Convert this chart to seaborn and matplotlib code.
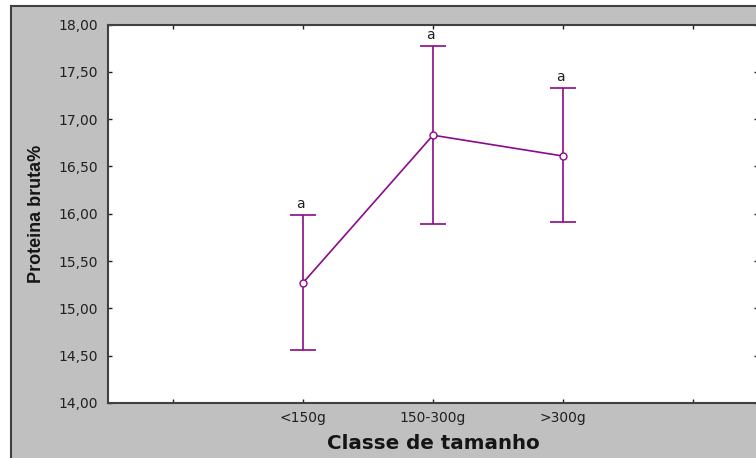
import numpy as np
import pandas as pd
import matplotlib
matplotlib.use("Agg")
import matplotlib.pyplot as plt
from matplotlib.patches import Rectangle
from matplotlib.ticker import FuncFormatter
import seaborn as sns

# dados
classes = ["<150g", "150-300g", ">300g"]
medias = [15.27, 16.83, 16.61]
ic_inf = [14.56, 15.89, 15.91]
ic_sup = [15.99, 17.77, 17.33]
letras = ["a", "a", "a"]
yticks = [14.0, 14.5, 15.0, 15.5, 16.0, 16.5, 17.0, 17.5, 18.0]

sns.set_style("ticks")
plt.rcParams["font.family"] = ["DejaVu Sans"]

roxo = "#8B0A8B"
cinza = "#C0C0C0"
borda = "#404040"

pos = np.arange(1, len(classes) + 1)
df = pd.DataFrame({"pos": pos, "media": medias})

fig = plt.figure(figsize=(7.56, 4.58), dpi=100, facecolor="white")
# fundo cinza com moldura
fig.patches.append(Rectangle((11 / 756, -0.1), 1.1, 1 - 6 / 458 + 0.1,
                             transform=fig.transFigure, facecolor=cinza,
                             edgecolor=borda, lw=1.5, zorder=-10))
ax = fig.add_axes([108 / 756, 1 - 403 / 458, 650 / 756, (403 - 24.5) / 458])
ax.set_facecolor("white")

yerr = [np.array(medias) - np.array(ic_inf), np.array(ic_sup) - np.array(medias)]
ax.errorbar(pos, medias, yerr=yerr, fmt="none", ecolor=roxo, elinewidth=1.2,
            capsize=9.5, capthick=1.2, zorder=2)
sns.lineplot(data=df, x="pos", y="media", color=roxo, lw=1.2, marker="o",
             markersize=5, markerfacecolor="white", markeredgecolor=roxo,
             markeredgewidth=1.0, ax=ax, zorder=3)

for p, s, l in zip(pos, ic_sup, letras):
    ax.annotate(l, (p, s), xytext=(-2, 3), textcoords="offset points",
                ha="center", va="bottom", fontsize=10, color="#202020")

ax.set_xlim(-0.5, 4.5)
ax.set_ylim(14, 18)
ax.set_xticks(range(5))
ax.set_xticklabels([""] + classes + [""])
ax.set_yticks(yticks)
ax.yaxis.set_major_formatter(FuncFormatter(lambda v, _: f"{v:.2f}".replace(".", ",")))
ax.tick_params(direction="in", length=3, width=1, color="#202020",
               top=True, right=True, labelsize=10, labelcolor="#202020")
ax.tick_params(axis="y", pad=7)
ax.tick_params(axis="x", pad=6)
for sp in ax.spines.values():
    sp.set_color(borda)
    sp.set_linewidth(1.5)

ax.set_xlabel("Classe de tamanho", fontsize=14.3, fontweight="bold",
              labelpad=6, color="#151515")
ax.set_ylabel("Proteina bruta%", fontsize=13, fontweight="bold",
              family=["Liberation Sans"], labelpad=10, color="#151515")

fig.savefig("out.png", dpi=100, facecolor=fig.get_facecolor())
